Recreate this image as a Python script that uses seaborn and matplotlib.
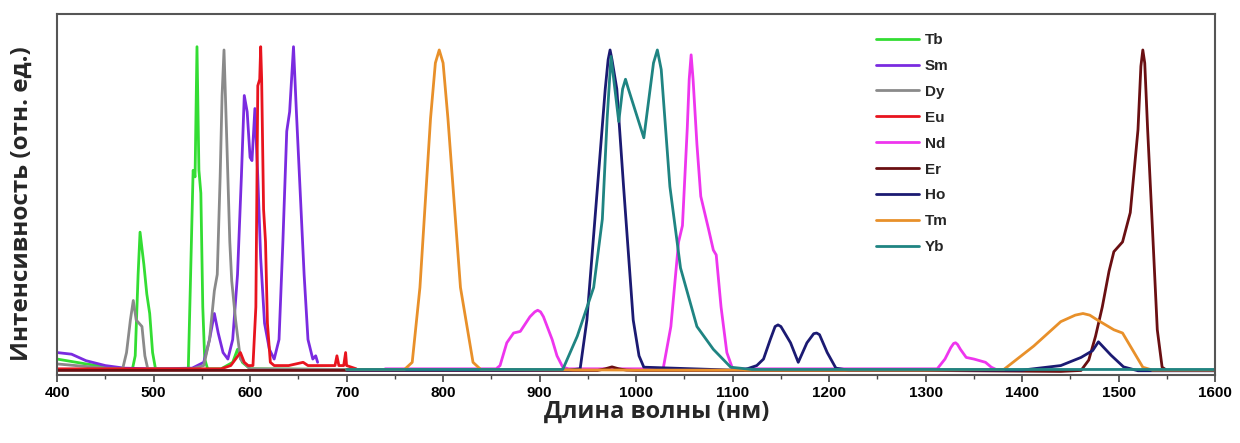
import matplotlib
matplotlib.use("Agg")
import matplotlib.pyplot as plt
from matplotlib.ticker import MultipleLocator
import seaborn as sns

# spectra (wavelength in nm, normalised intensity)
tb_x = [400, 430, 460, 478, 481, 484, 486, 490, 493, 496, 499, 502, 520, 536, 538, 541, 543, 545, 547, 549, 551, 553, 556, 570, 582, 587, 592, 600, 700]
tb_y = [0.04, 0.025, 0.012, 0.008, 0.05, 0.30, 0.43, 0.33, 0.24, 0.18, 0.06, 0.01, 0.008, 0.01, 0.25, 0.62, 0.60, 1.0, 0.62, 0.55, 0.2, 0.04, 0.01, 0.01, 0.03, 0.07, 0.03, 0.01, 0.008]

sm_x = [400, 415, 430, 450, 470, 500, 540, 552, 558, 563, 567, 572, 577, 582, 587, 591, 594, 597, 600, 602, 605, 608, 611, 615, 620, 625, 630, 634, 638, 641, 645, 648, 652, 656, 660, 665, 668, 670]
sm_y = [0.06, 0.055, 0.035, 0.02, 0.012, 0.01, 0.012, 0.03, 0.10, 0.18, 0.12, 0.06, 0.04, 0.10, 0.30, 0.60, 0.85, 0.80, 0.66, 0.65, 0.81, 0.60, 0.35, 0.15, 0.07, 0.04, 0.10, 0.40, 0.74, 0.80, 1.0, 0.80, 0.55, 0.30, 0.10, 0.04, 0.05, 0.03]

dy_x = [400, 450, 468, 472, 476, 479, 482, 485, 488, 491, 494, 500, 540, 552, 558, 563, 566, 569, 571, 573, 576, 579, 581, 585, 590, 600, 700]
dy_y = [0.025, 0.012, 0.01, 0.06, 0.16, 0.22, 0.16, 0.15, 0.14, 0.05, 0.01, 0.01, 0.01, 0.02, 0.10, 0.25, 0.30, 0.60, 0.85, 0.99, 0.70, 0.40, 0.28, 0.16, 0.04, 0.01, 0.008]

eu_x = [400, 500, 570, 580, 585, 590, 594, 598, 603, 606, 608, 610, 611, 612, 614, 616, 618, 621, 625, 640, 655, 660, 665, 680, 688, 690, 692, 697, 699, 700, 710]
eu_y = [0.01, 0.01, 0.01, 0.02, 0.04, 0.06, 0.03, 0.02, 0.02, 0.2, 0.88, 0.9, 1.0, 0.9, 0.5, 0.40, 0.15, 0.03, 0.02, 0.02, 0.03, 0.02, 0.02, 0.02, 0.02, 0.05, 0.02, 0.02, 0.06, 0.02, 0.01]

nd_x = [740, 800, 855, 859, 866, 873, 880, 890, 895, 898, 901, 904, 913, 918, 924, 930, 1000, 1028, 1036, 1044, 1048, 1053, 1055, 1057, 1059, 1063, 1067, 1075, 1080, 1083, 1088, 1094, 1100, 1200, 1300, 1312, 1320, 1326, 1329, 1331, 1333, 1336, 1342, 1350, 1356, 1362, 1368, 1375, 1380]
nd_y = [0.01, 0.01, 0.01, 0.02, 0.09, 0.12, 0.125, 0.17, 0.185, 0.19, 0.185, 0.17, 0.10, 0.05, 0.015, 0.01, 0.01, 0.01, 0.14, 0.40, 0.45, 0.75, 0.90, 0.975, 0.90, 0.70, 0.54, 0.44, 0.375, 0.36, 0.20, 0.06, 0.01, 0.01, 0.01, 0.01, 0.04, 0.075, 0.088, 0.09, 0.085, 0.07, 0.045, 0.04, 0.035, 0.03, 0.015, 0.005, 0.005]

er_x = [400, 700, 900, 960, 968, 975, 982, 990, 1000, 1300, 1440, 1461, 1469, 1476, 1483, 1490, 1495, 1504, 1512, 1520, 1523, 1525, 1527, 1530, 1535, 1540, 1545, 1550, 1600]
er_y = [0.005, 0.005, 0.005, 0.005, 0.01, 0.016, 0.01, 0.006, 0.005, 0.005, 0.002, 0.005, 0.037, 0.11, 0.20, 0.31, 0.37, 0.40, 0.49, 0.745, 0.94, 0.99, 0.95, 0.745, 0.44, 0.13, 0.015, 0.005, 0.005]

ho_x = [700, 930, 942, 949, 960, 968, 971, 973, 975, 980, 987, 997, 1003, 1008, 1100, 1111, 1125, 1132, 1139, 1144, 1147, 1150, 1160, 1168, 1177, 1184, 1187, 1190, 1198, 1207, 1220, 1400, 1440, 1461, 1473, 1479, 1492, 1505, 1520, 1600]
ho_y = [0.006, 0.006, 0.01, 0.16, 0.57, 0.87, 0.96, 0.99, 0.96, 0.87, 0.57, 0.16, 0.05, 0.015, 0.006, 0.006, 0.02, 0.04, 0.10, 0.14, 0.145, 0.14, 0.09, 0.03, 0.09, 0.118, 0.12, 0.115, 0.06, 0.012, 0.006, 0.006, 0.02, 0.045, 0.066, 0.093, 0.052, 0.016, 0.004, 0.004]

tm_x = [700, 760, 768, 776, 787, 792, 796, 800, 805, 818, 831, 839, 1000, 1300, 1381, 1412, 1440, 1455, 1463, 1470, 1478, 1495, 1504, 1514, 1525, 1535, 1600]
tm_y = [0.008, 0.008, 0.03, 0.26, 0.78, 0.95, 0.99, 0.95, 0.78, 0.26, 0.03, 0.008, 0.006, 0.006, 0.008, 0.08, 0.155, 0.175, 0.18, 0.175, 0.16, 0.13, 0.12, 0.07, 0.015, 0.006, 0.006]

yb_x = [700, 924, 939, 956, 965, 970, 974, 982, 986, 989, 992, 1008, 1018, 1022, 1026, 1035, 1046, 1063, 1080, 1098, 1120, 1400, 1600]
yb_y = [0.008, 0.008, 0.11, 0.26, 0.47, 0.78, 0.97, 0.77, 0.87, 0.90, 0.87, 0.72, 0.95, 0.99, 0.93, 0.57, 0.32, 0.14, 0.07, 0.015, 0.008, 0.008, 0.008]

names = ["Tb", "Sm", "Dy", "Eu", "Nd", "Er", "Ho", "Tm", "Yb"]
colors = ["#33dd33", "#7a2be0", "#8a8a8a", "#e8141e", "#ee35ee",
          "#6a0f12", "#1b1a72", "#e8902a", "#1f8482"]
series = [(tb_x, tb_y), (sm_x, sm_y), (dy_x, dy_y), (eu_x, eu_y), (nd_x, nd_y),
          (er_x, er_y), (ho_x, ho_y), (tm_x, tm_y), (yb_x, yb_y)]

sns.set_style("ticks")
plt.rcParams["font.family"] = ["Liberation Sans", "DejaVu Sans"]
plt.rcParams["font.weight"] = "bold"
plt.rcParams["lines.solid_joinstyle"] = "round"

fig = plt.figure(figsize=(12.4, 4.43), dpi=100)
ax = fig.add_axes([0.046, 0.1535, 0.934, 0.8145])

for name, col, (xs, ys) in zip(names, colors, series):
    sns.lineplot(x=xs, y=ys, ax=ax, color=col, linewidth=2.0, label=name,
                 sort=False, estimator=None)

ax.set_xlim(400, 1600)
ax.set_ylim(-0.009, 1.10)
ax.xaxis.set_major_locator(MultipleLocator(100))
ax.xaxis.set_minor_locator(MultipleLocator(50))
ax.set_yticks([])
ax.tick_params(axis="x", which="major", direction="out", length=5, width=1.2,
               labelsize=11, pad=3, colors="#444444", labelcolor="black")
ax.tick_params(axis="x", which="minor", direction="out", length=3, width=1.0,
               colors="#444444")
for lbl in ax.get_xticklabels():
    lbl.set_fontweight("bold")
for sp in ax.spines.values():
    sp.set_visible(True)
    sp.set_color("#555555")
    sp.set_linewidth(1.5)

ax.set_xlabel("Длина волны (нм)", fontsize=17, fontweight="bold",
              family=["Open Sans", "DejaVu Sans"])
ax.set_ylabel("Интенсивность (отн. ед.)", fontsize=17.5, fontweight="bold",
              family=["Open Sans", "DejaVu Sans"])
ax.xaxis.set_label_coords(0.518, -0.068)
ax.yaxis.set_label_coords(-0.02, 0.475)

leg = ax.legend(loc="upper left", bbox_to_anchor=(876 / 1240, (443 - 33) / 443),
                bbox_transform=fig.transFigure, frameon=False, fontsize=11,
                handlelength=2.8, handletextpad=0.4, labelspacing=0.78,
                borderpad=0, borderaxespad=0)
for t in leg.get_texts():
    t.set_fontweight("bold")

fig.savefig("out.png", dpi=100)
